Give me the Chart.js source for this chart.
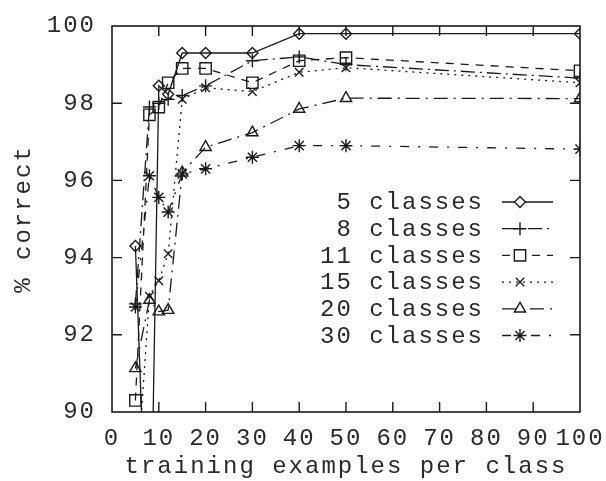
<!DOCTYPE html>
<html>
<head>
<meta charset="utf-8">
<script src="https://cdn.jsdelivr.net/npm/chart.js@4.4.1/dist/chart.umd.min.js"></script>
<style>
html,body{margin:0;padding:0;background:#fff;}
#wrap{width:606px;height:481px;}
</style>
</head>
<body>
<div id="wrap"><canvas id="c" width="606" height="481"></canvas></div>
<script>
// ---- data ----
const xValues   = [5, 8, 10, 12, 15, 20, 30, 40, 50, 100];
const classes5  = [94.3, 84.4, 98.45, 98.23, 99.3, 99.3, 99.3, 99.8, 99.8, 99.8];
const classes8  = [92.8, 97.9, 98.0, 98.1, 98.2, 98.45, 99.1, 99.2, 99.0, 98.65];
const classes11 = [90.3, 97.7, 97.9, 98.53, 98.9, 98.9, 98.53, 99.1, 99.18, 98.84];
const classes15 = [87.7, 93.0, 93.4, 94.1, 98.1, 98.4, 98.3, 98.8, 98.92, 98.53];
const classes20 = [91.13, 92.9, 92.6, 92.64, 96.2, 96.86, 97.24, 97.85, 98.13, 98.12];
const classes30 = [92.72, 96.12, 95.56, 95.18, 96.17, 96.3, 96.6, 96.9, 96.9, 96.81];
const seriesLabels = ['5 classes', '8 classes', '11 classes', '15 classes', '20 classes', '30 classes'];
const xTicks = [0, 10, 20, 30, 40, 50, 60, 70, 80, 90, 100];
const yTicks = [90, 92, 94, 96, 98, 100];

const seriesValues = [classes5, classes8, classes11, classes15, classes20, classes30];
const styles = [
  {pointStyle:'rectRot', r:5.5, dash:[]},
  {pointStyle:'cross', r:6.5, dash:[14,5,2,5]},
  {pointStyle:'rect', r:8, dash:[8,7]},
  {pointStyle:'crossRot', r:6, dash:[2,5]},
  {pointStyle:'triangle', r:6.5, dash:[14,6,2,6]},
  {pointStyle:'star', r:6.5, dash:[9,9,2,9]}
];
const INK = '#1a1a1a';
const TEXT = '#2a2a2a';
const FONT = 'Liberation Mono';

const datasets = seriesValues.map((vals, i) => ({
  label: seriesLabels[i],
  data: xValues.map((x, j) => ({x: x, y: vals[j]})),
  borderColor: INK,
  borderWidth: 1.3,
  borderDash: styles[i].dash,
  backgroundColor: 'rgba(0,0,0,0)',
  pointStyle: styles[i].pointStyle,
  pointRadius: styles[i].r,
  pointBorderColor: INK,
  pointBorderWidth: 1.4,
  pointBackgroundColor: 'rgba(0,0,0,0)',
  tension: 0,
  fill: false
}));

const spacingPlugin = {
  id: 'spacing',
  beforeUpdate(chart){ chart.ctx.letterSpacing = '2px'; },
  beforeDraw(chart){
    chart.ctx.letterSpacing = '2px';
    const ctx = chart.ctx;
    ctx.save();
    ctx.fillStyle = '#fff';
    ctx.fillRect(0, 0, chart.width, chart.height);
    ctx.restore();
  }
};

const framePlugin = {
  id: 'frame',
  afterDraw(chart){
    const ctx = chart.ctx, a = chart.chartArea;
    const xs = chart.scales.x, ys = chart.scales.y;
    ctx.save();
    ctx.strokeStyle = INK;
    ctx.lineWidth = 1.6;
    ctx.setLineDash([]);
    ctx.strokeRect(a.left, a.top, a.right - a.left, a.bottom - a.top);
    ctx.lineWidth = 1.4;
    const L = 10;
    ctx.beginPath();
    xTicks.forEach(v => {
      if (v === xs.min || v === xs.max) return;
      const p = xs.getPixelForValue(v);
      ctx.moveTo(p, a.bottom); ctx.lineTo(p, a.bottom - L);
      ctx.moveTo(p, a.top); ctx.lineTo(p, a.top + L);
    });
    yTicks.forEach(v => {
      if (v === ys.min || v === ys.max) return;
      const p = ys.getPixelForValue(v);
      ctx.moveTo(a.left, p); ctx.lineTo(a.left + L, p);
      ctx.moveTo(a.right, p); ctx.lineTo(a.right - L, p);
    });
    ctx.stroke();
    ctx.restore();
  }
};

const legendPlugin = {
  id: 'sideLegend',
  afterDatasetsDraw(chart){
    const ctx = chart.ctx;
    const textRight = 484, lineL = 502, lineR = 553, markX = 520;
    const top = 202, step = 26.7;
    ctx.save();
    ctx.font = '24px "' + FONT + '"';
    ctx.letterSpacing = '2px';
    ctx.textAlign = 'right';
    ctx.textBaseline = 'middle';
    chart.data.datasets.forEach((ds, i) => {
      const y = top + i * step;
      ctx.fillStyle = TEXT;
      ctx.fillText(ds.label, textRight, y + 1);
      ctx.strokeStyle = INK;
      ctx.lineWidth = 1.3;
      ctx.setLineDash(ds.borderDash);
      ctx.beginPath();
      ctx.moveTo(lineL, y); ctx.lineTo(lineR, y);
      ctx.stroke();
      ctx.setLineDash([]);
      ctx.lineWidth = 1.4;
      ctx.fillStyle = '#fff';
      Chart.helpers.drawPoint(ctx, {
        pointStyle: ds.pointStyle, radius: ds.pointRadius, rotation: 0, borderWidth: 1.4
      }, markX, y);
    });
    ctx.restore();
  }
};

function zeroPad(s){ s.paddingTop = 0; s.paddingBottom = 0; s.paddingLeft = 0; s.paddingRight = 0; }

new Chart(document.getElementById('c'), {
  type: 'line',
  data: { datasets },
  plugins: [spacingPlugin, framePlugin, legendPlugin],
  options: {
    responsive: false,
    animation: false,
    devicePixelRatio: 1,
    layout: { padding: { top: 26, right: 26, left: 0, bottom: 0 } },
    plugins: { legend: { display: false }, tooltip: { enabled: false } },
    scales: {
      x: {
        type: 'linear', min: 0, max: 100,
        afterBuildTicks(s){ s.ticks = xTicks.map(v => ({value: v})); },
        afterFit(s){ s.height = 69; zeroPad(s); },
        grid: { display: false, drawTicks: false },
        border: { display: false },
        ticks: { color: TEXT, font: { family: FONT, size: 24 }, padding: 12, maxRotation: 0, autoSkip: false },
        title: { display: true, text: 'training examples per class', color: TEXT, font: { family: FONT, size: 24 }, padding: { top: 0, bottom: 0 } }
      },
      y: {
        type: 'linear', min: 90, max: 100,
        afterBuildTicks(s){ s.ticks = yTicks.map(v => ({value: v})); },
        afterFit(s){ s.width = 112; zeroPad(s); },
        grid: { display: false, drawTicks: false },
        border: { display: false },
        ticks: { color: TEXT, font: { family: FONT, size: 24 }, padding: 16 },
        title: { display: true, text: '% correct', color: TEXT, font: { family: FONT, size: 24 }, padding: { top: 9, bottom: 0 } }
      }
    }
  }
});
</script>
</body>
</html>
